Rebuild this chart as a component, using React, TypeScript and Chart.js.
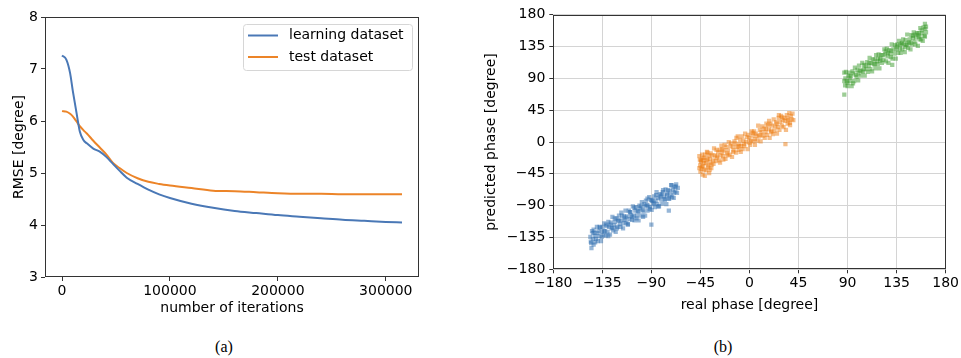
import React, { useEffect, useRef } from "react";
import { Chart, registerables } from "chart.js";

Chart.register(...registerables);
Chart.defaults.font.family = "'DejaVu Sans', sans-serif";
Chart.defaults.font.size = 14;
Chart.defaults.color = "#000";

// ---------- (a) RMSE vs iterations ----------
const seriesLabels = ["learning dataset", "test dataset"];
const iterations = [0, 4000, 7500, 10000, 13500, 16500, 20000, 23000, 29000, 35000, 41000, 47000, 53000, 60000, 70000, 80000, 90000, 100000, 120000, 140000, 160000, 180000, 200000, 220000, 240000, 260000, 280000, 300000, 315000];
const learningRmse = [7.26, 7.18, 6.92, 6.58, 6.15, 5.8, 5.63, 5.57, 5.47, 5.41, 5.31, 5.18, 5.05, 4.91, 4.79, 4.68, 4.59, 4.52, 4.41, 4.33, 4.27, 4.23, 4.19, 4.16, 4.13, 4.1, 4.08, 4.06, 4.05];
const testRmse = [6.19, 6.18, 6.14, 6.09, 5.99, 5.9, 5.82, 5.76, 5.62, 5.49, 5.36, 5.2, 5.1, 5.0, 4.9, 4.83, 4.79, 4.76, 4.71, 4.66, 4.65, 4.63, 4.61, 4.6, 4.6, 4.59, 4.59, 4.59, 4.59];
const iterationTicks = [0, 100000, 200000, 300000];
const rmseTicks = [3, 4, 5, 6, 7, 8];

// ---------- (b) predicted vs real phase ----------
const phaseTicks = [-180, -135, -90, -45, 0, 45, 90, 135, 180];

const blueReal = [
  -146, -145.25, -144.5, -143.75, -143, -142.25, -141.5, -140.75, -140, -139.25, -138.5, -137.75, -137, -136.25, -135.5, -134.75, -134, -133.25, -132.5, -131.75,
  -131, -130.25, -129.5, -128.75, -128, -127.25, -126.5, -125.75, -125, -124.25, -123.5, -122.75, -122, -121.25, -120.5, -119.75, -119, -118.25, -117.5, -116.75,
  -116, -115.25, -114.5, -113.75, -113, -112.25, -111.5, -110.75, -110, -109.25, -108.5, -107.75, -107, -106.25, -105.5, -104.75, -104, -103.25, -102.5, -101.75,
  -101, -100.25, -99.5, -98.75, -98, -97.25, -96.5, -95.75, -95, -94.25, -93.5, -92.75, -92, -91.25, -90.5, -89.75, -89, -88.25, -87.5, -86.75,
  -86, -85.25, -84.5, -83.75, -83, -82.25, -81.5, -80.75, -80, -79.25, -78.5, -77.75, -77, -76.25, -75.5, -74.75, -74, -73.25, -72.5, -71.75,
  -71, -70.25, -69.5, -68.75, -68, -67.25, -66.5, -65.75,
  -145.6, -143.6, -141.6, -139.6, -137.6, -135.6, -133.6, -131.6, -129.6, -127.6, -125.6, -123.6, -121.6, -119.6, -117.6, -115.6, -113.6, -111.6, -109.6, -107.6,
  -105.6, -103.6, -101.6, -99.6, -97.6, -95.6, -93.6, -91.6, -89.6, -87.6, -85.6, -83.6, -81.6, -79.6, -77.6, -75.6, -73.6, -71.6, -69.6, -67.6,
  -90, -74, -145, -143,
];
const bluePred = [
  -134, -143, -126, -137, -145, -128, -133, -137, -120, -140, -126, -133, -121, -140, -127, -120, -132, -115, -126, -132,
  -119, -127, -113, -120, -131, -114, -122, -106, -125, -118, -113, -127, -108, -120, -111, -104, -116, -120, -111, -104,
  -122, -105, -110, -97, -114, -105, -116, -97, -109, -99, -104, -110, -91, -104, -111, -97, -92, -104, -98, -111,
  -90, -94, -104, -85, -96, -98, -88, -104, -83, -89, -97, -90, -78, -92, -82, -96, -83, -88, -77, -92,
  -83, -71, -88, -79, -91, -74, -81, -74, -87, -68, -77, -81, -67, -88, -73, -68, -80, -69, -75, -61,
  -78, -67, -79, -63, -70, -60, -72, -65,
  -141, -129, -142, -129, -120, -134, -126, -117, -133, -117, -121, -108, -122, -111, -100, -115, -107, -117, -99, -106,
  -93, -108, -98, -91, -106, -91, -80, -95, -83, -86, -75, -91, -77, -71, -81, -75, -80, -61, -72, -63,
  -117, -97, -150, -124,
];

const orangeReal = [
  -46, -45.25, -44.5, -43.75, -43, -42.25, -41.5, -40.75, -40, -39.25, -38.5, -37.75, -37, -36.25, -35.5, -34.75, -34, -33.25, -32.5, -31.75,
  -31, -30.25, -29.5, -28.75, -28, -27.25, -26.5, -25.75, -25, -24.25, -23.5, -22.75, -22, -21.25, -20.5, -19.75, -19, -18.25, -17.5, -16.75,
  -16, -15.25, -14.5, -13.75, -13, -12.25, -11.5, -10.75, -10, -9.25, -8.5, -7.75, -7, -6.25, -5.5, -4.75, -4, -3.25, -2.5, -1.75,
  -1, -0.25, 0.5, 1.25, 2, 2.75, 3.5, 4.25, 5, 5.75, 6.5, 7.25, 8, 8.75, 9.5, 10.25, 11, 11.75, 12.5, 13.25,
  14, 14.75, 15.5, 16.25, 17, 17.75, 18.5, 19.25, 20, 20.75, 21.5, 22.25, 23, 23.75, 24.5, 25.25, 26, 26.75, 27.5, 28.25,
  29, 29.75, 30.5, 31.25, 32, 32.75, 33.5, 34.25, 35, 35.75, 36.5, 37.25, 38, 38.75, 39.5, 40.25,
  -45, -44, -43, -42, -41, -40, -39, -38, -37, -36, -44.5, -43.5, -42.5, -38.5, -35, -33, -30, -27, -24, -12, 33, -46, -45.5, -41.5, -36.5,
  -20, -15, -10, -5, 0, 5, 10, 15, 20, 25, 30, 35, -8, 3, 18, 27, 37, -25,
];
const orangePred = [
  -20, -33, -26, -35, -23, -26, -39, -18, -30, -26, -15, -33, -19, -24, -16, -32, -19, -26, -9, -19,
  -27, -11, -20, -14, -26, -11, -19, -5, -15, -20, -12, -4, -24, -7, -16, -12, 0, -18, -6, -2,
  -21, -7, -12, 1, -2, -15, -7, 8, -11, -3, 3, -6, 8, -10, 2, -6, 12, 0, 7, -10,
  10, 5, -4, 2, 15, 9, 1, 15, -4, 12, 9, 2, 23, 8, 17, 1, 14, 22, 9, 19,
  6, 14, 26, 10, 24, 18, 6, 26, 16, 23, 11, 32, 16, 22, 28, 12, 21, 34, 17, 28,
  37, 23, 31, 21, 34, 30, 17, 38, 26, 31, 41, 24, 37, 32, 40, 31,
  -42, -38, -46, -30, -48, -40, -14, -36, -44, -29, -28, -18, -34, -24, -37, -31, -22, -29, -25, 6, -3, -37, -25, -22, -39,
  -19, -14, -6, -3, -1, 4, 10, 19, 14, 26, 35, 33, -14, 13, 30, 38, 27, -10,
];

const greenReal = [
  87, 87.75, 88.5, 89.25, 90, 90.75, 91.5, 92.25, 93, 93.75, 94.5, 95.25, 96, 96.75, 97.5, 98.25, 99, 99.75, 100.5, 101.25,
  102, 102.75, 103.5, 104.25, 105, 105.75, 106.5, 107.25, 108, 108.75, 109.5, 110.25, 111, 111.75, 112.5, 113.25, 114, 114.75, 115.5, 116.25,
  117, 117.75, 118.5, 119.25, 120, 120.75, 121.5, 122.25, 123, 123.75, 124.5, 125.25, 126, 126.75, 127.5, 128.25, 129, 129.75, 130.5, 131.25,
  132, 132.75, 133.5, 134.25, 135, 135.75, 136.5, 137.25, 138, 138.75, 139.5, 140.25, 141, 141.75, 142.5, 143.25, 144, 144.75, 145.5, 146.25,
  147, 147.75, 148.5, 149.25, 150, 150.75, 151.5, 152.25, 153, 153.75, 154.5, 155.25, 156, 156.75, 157.5, 158.25, 159, 159.75, 160.5, 161.25, 162,
  87, 161, 131, 87, 88, 90, 92, 95, 100, 105, 110, 115, 120, 125, 130, 135, 140, 145, 150, 155, 158, 161, 162, 156, 148, 152, 143, 138, 127, 118,
];
const greenPred = [
  86, 80, 99, 86, 79, 94, 98, 86, 93, 79, 100, 97, 86, 105, 95, 92, 102, 87, 108, 101,
  94, 101, 112, 99, 109, 94, 108, 103, 113, 99, 108, 119, 103, 112, 100, 117, 110, 117, 104, 123,
  114, 110, 124, 104, 118, 123, 112, 123, 116, 131, 124, 114, 132, 121, 112, 130, 125, 120, 138, 118,
  131, 125, 137, 118, 131, 138, 126, 143, 132, 126, 139, 131, 145, 138, 127, 144, 137, 152, 133, 141,
  145, 131, 151, 138, 147, 155, 142, 138, 148, 154, 136, 154, 149, 161, 145, 154, 143, 162, 150, 160, 155,
  67, 167, 109, 98, 90, 84, 91, 83, 97, 103, 112, 110, 115, 128, 129, 135, 140, 139, 150, 151, 158, 149, 163, 145, 140, 152, 134, 137, 126, 118,
];

const lineColors = ["#4a78b6", "#ec8428"];
const scatterColors = ["rgba(45,110,175,0.5)", "rgba(238,125,20,0.5)", "rgba(60,155,45,0.5)"];

const fmtPhase = (v: number) => (v < 0 ? "\u2212" + Math.abs(v) : String(v));

const boxPlugin = {
  id: "boxSpines",
  afterDraw(chart: any) {
    const { ctx, chartArea } = chart;
    ctx.save();
    ctx.strokeStyle = "#333";
    ctx.lineWidth = 1;
    const l = Math.round(chartArea.left) + 0.5;
    const t = Math.round(chartArea.top) + 0.5;
    const r = Math.round(chartArea.right) - 0.5;
    const b = Math.round(chartArea.bottom) - 0.5;
    ctx.strokeRect(l, t, r - l, b - t);
    ctx.restore();
  },
};

const legendPlugin = {
  id: "boxLegend",
  afterDraw(chart: any) {
    const { ctx, chartArea } = chart;
    const w = 169;
    const h = 46;
    const x = Math.round(chartArea.right) - 7 - w;
    const y = Math.round(chartArea.top) + 7;
    ctx.save();
    ctx.fillStyle = "rgba(255,255,255,0.85)";
    ctx.strokeStyle = "#d6d6d6";
    ctx.lineWidth = 1;
    ctx.beginPath();
    (ctx as any).roundRect(x + 0.5, y + 0.5, w, h, 3);
    ctx.fill();
    ctx.stroke();
    chart.data.datasets.forEach((ds: any, i: number) => {
      const ly = y + 11.5 + i * 21.5;
      ctx.strokeStyle = ds.borderColor;
      ctx.lineWidth = 2;
      ctx.beginPath();
      ctx.moveTo(x + 5, ly);
      ctx.lineTo(x + 35, ly);
      ctx.stroke();
      ctx.fillStyle = "#000";
      ctx.font = "14px 'DejaVu Sans', sans-serif";
      ctx.textBaseline = "middle";
      ctx.textAlign = "left";
      ctx.fillText(ds.label, x + 46, ly);
    });
    ctx.restore();
  },
};

function LineChart() {
  const ref = useRef<HTMLCanvasElement>(null);
  useEffect(() => {
    const chart = new Chart(ref.current!, {
      type: "line",
      data: {
        datasets: [
          { label: seriesLabels[0], data: iterations.map((x, i) => ({ x, y: learningRmse[i] })), borderColor: lineColors[0], borderWidth: 2, pointRadius: 0, cubicInterpolationMode: "monotone", fill: false },
          { label: seriesLabels[1], data: iterations.map((x, i) => ({ x, y: testRmse[i] })), borderColor: lineColors[1], borderWidth: 2, pointRadius: 0, cubicInterpolationMode: "monotone", fill: false },
        ],
      },
      options: {
        animation: false,
        responsive: false,
        devicePixelRatio: 1,
        layout: { padding: { left: 0, right: 11, top: 17, bottom: 0 } },
        plugins: { legend: { display: false }, tooltip: { enabled: false } },
        scales: {
          x: {
            type: "linear",
            min: -15750,
            max: 330750,
            afterBuildTicks: (s: any) => { s.ticks = iterationTicks.map((v) => ({ value: v })); },
            afterFit: (s: any) => { s.height = 48; },
            grid: { display: true, drawOnChartArea: false, drawTicks: true, tickLength: 4, tickColor: "#333" },
            border: { display: false },
            ticks: { color: "#000", padding: 2, maxRotation: 0, autoSkip: false, callback: (v: any) => String(v) },
            title: { display: true, text: "number of iterations", color: "#000", font: { size: 14 }, padding: { top: 0, bottom: 8.6 } },
          },
          y: {
            min: 3,
            max: 8,
            afterBuildTicks: (s: any) => { s.ticks = rmseTicks.map((v) => ({ value: v })); },
            afterFit: (s: any) => { s.width = 45; },
            grid: { display: true, drawOnChartArea: false, drawTicks: true, tickLength: 4, tickColor: "#333" },
            border: { display: false },
            ticks: { color: "#000", padding: 3, callback: (v: any) => String(v) },
            title: { display: true, text: "RMSE [degree]", color: "#000", font: { size: 14 }, padding: { top: 10.6, bottom: 0 } },
          },
        },
      },
      plugins: [boxPlugin, legendPlugin],
    } as any);
    return () => chart.destroy();
  }, []);
  return <canvas ref={ref} width={430} height={325} style={{ position: "absolute", left: 0, top: 0 }} />;
}

function ScatterChart() {
  const ref = useRef<HTMLCanvasElement>(null);
  useEffect(() => {
    const mk = (xs: number[], ys: number[]) => xs.map((x, i) => ({ x, y: ys[i] }));
    const common = { pointStyle: "rect", pointRadius: 3, borderWidth: 0 };
    const chart = new Chart(ref.current!, {
      type: "scatter",
      data: {
        datasets: [
          { data: mk(blueReal, bluePred), backgroundColor: scatterColors[0], ...common },
          { data: mk(orangeReal, orangePred), backgroundColor: scatterColors[1], ...common },
          { data: mk(greenReal, greenPred), backgroundColor: scatterColors[2], ...common },
        ],
      },
      options: {
        animation: false,
        responsive: false,
        devicePixelRatio: 1,
        layout: { padding: { left: 0, right: 15.3, top: 14.7, bottom: 0 } },
        plugins: { legend: { display: false }, tooltip: { enabled: false } },
        scales: {
          x: {
            type: "linear",
            min: -180,
            max: 180,
            afterBuildTicks: (s: any) => { s.ticks = phaseTicks.map((v) => ({ value: v })); },
            afterFit: (s: any) => { s.height = 55.7; },
            grid: { display: true, drawOnChartArea: true, color: "#d4d4d4", drawTicks: true, tickLength: 4, tickColor: "#333" },
            border: { display: false },
            ticks: { color: "#000", padding: 2, maxRotation: 0, autoSkip: false, callback: (v: any) => fmtPhase(v) },
            title: { display: true, text: "real phase [degree]", color: "#000", font: { size: 14 }, padding: { top: 0, bottom: 11.6 } },
          },
          y: {
            min: -180,
            max: 180,
            afterBuildTicks: (s: any) => { s.ticks = phaseTicks.map((v) => ({ value: v })); },
            afterFit: (s: any) => { s.width = 113.3; },
            grid: { display: true, drawOnChartArea: true, color: "#d4d4d4", drawTicks: true, tickLength: 4, tickColor: "#333" },
            border: { display: false },
            ticks: { color: "#000", padding: 4, autoSkip: false, callback: (v: any) => fmtPhase(v) },
            title: { display: true, text: "predicted phase [degree]", color: "#000", font: { size: 14 }, padding: { top: 42.6, bottom: 0 } },
          },
        },
      },
      plugins: [boxPlugin],
    } as any);
    return () => chart.destroy();
  }, []);
  return <canvas ref={ref} width={521} height={325} style={{ position: "absolute", left: 440, top: 0 }} />;
}

const captionStyle: React.CSSProperties = {
  position: "absolute",
  top: 338,
  transform: "translateX(-50%)",
  fontFamily: "'Liberation Serif', 'Times New Roman', serif",
  fontSize: 16,
  color: "#000",
  whiteSpace: "nowrap",
};

export default function App() {
  return (
    <div style={{ position: "absolute", left: 0, top: 0, width: 961, height: 358, background: "#fff" }}>
      <LineChart />
      <ScatterChart />
      <div style={{ ...captionStyle, left: 224 }}>(a)</div>
      <div style={{ ...captionStyle, left: 723 }}>(b)</div>
    </div>
  );
}
